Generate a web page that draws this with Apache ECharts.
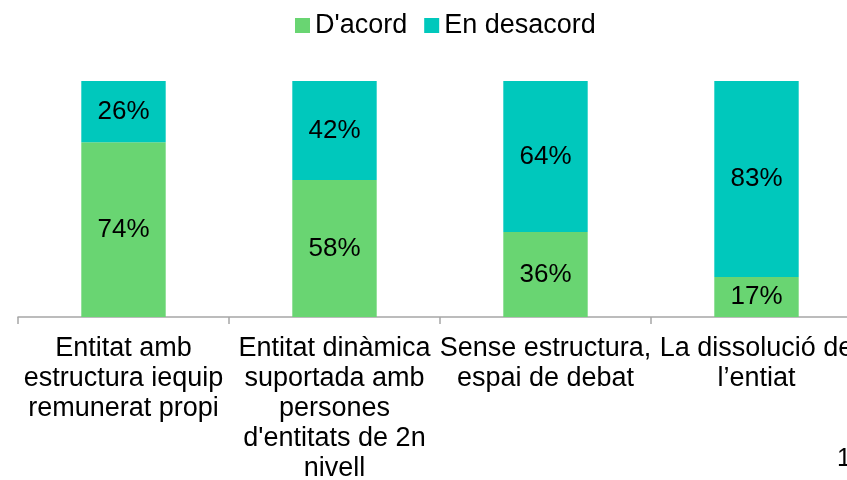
<!DOCTYPE html>
<html>
<head>
<meta charset="utf-8">
<script src="https://cdn.jsdelivr.net/npm/echarts@6/dist/echarts.min.js"></script>
<style>
html, body { margin: 0; padding: 0; background: #fff; }
#mybox { width: 847px; height: 480px; }
</style>
</head>
<body>
<div id="mybox"></div>
<script>
// categories (line breaks as in the original slide)
var categories = [
    'Entitat amb\nestructura iequip\nremunerat propi',
    'Entitat dinàmica\nsuportada amb\npersones\nd\'entitats de 2n\nnivell',
    'Sense estructura,\nespai de debat',
    'La dissolució de\nl\u2019entiat'
];
var seriesNames = ["D'acord", 'En desacord'];
var acord = [74, 58, 36, 17];
var desacord = [26, 42, 64, 83];

var colors = ['#69D572', '#00C8BC'];
var fontName = '"Liberation Sans", Arial, sans-serif';

var mycharts = echarts.init(document.getElementById('mybox'));

var labelStyle = {
    show: true,
    position: 'inside',
    formatter: '{c}%',
    color: '#000',
    fontSize: 26,
    fontFamily: fontName
};

var optionObj = {
    animation: false,
    color: colors,
    legend: {
        left: 290,
        top: 7,
        itemWidth: 15,
        itemHeight: 15,
        itemGap: 17,
        icon: 'rect',
        textStyle: { fontSize: 27, fontFamily: fontName, color: '#000' },
        data: seriesNames
    },
    // plot runs past the right edge, like the cropped original
    grid: {
        left: 18,
        width: 844,
        top: 81,
        bottom: 163,
        outerBoundsMode: 'none'
    },
    xAxis: {
        type: 'category',
        data: categories,
        axisLine: { lineStyle: { color: '#a6a6a6', width: 1.5 } },
        axisTick: { show: true, length: 7, lineStyle: { color: '#a6a6a6', width: 1.5 } },
        axisLabel: {
            interval: 0,
            margin: 17,
            fontSize: 27,
            lineHeight: 30,
            fontFamily: fontName,
            color: '#000',
            align: 'center',
            hideOverlap: false
        }
    },
    yAxis: {
        type: 'value',
        min: 0,
        max: 100,
        show: false,
        splitLine: { show: false }
    },
    series: [
        {
            name: seriesNames[0],
            type: 'bar',
            stack: 'total',
            barWidth: '40%',
            label: labelStyle,
            data: acord
        },
        {
            name: seriesNames[1],
            type: 'bar',
            stack: 'total',
            barWidth: '40%',
            label: labelStyle,
            data: desacord
        }
    ],
    graphic: [
        {
            type: 'text',
            left: 837,
            top: 447,
            style: { text: '1', fontSize: 25, fontFamily: fontName, fill: '#000' }
        }
    ]
};

mycharts.setOption(optionObj);
</script>
</body>
</html>
